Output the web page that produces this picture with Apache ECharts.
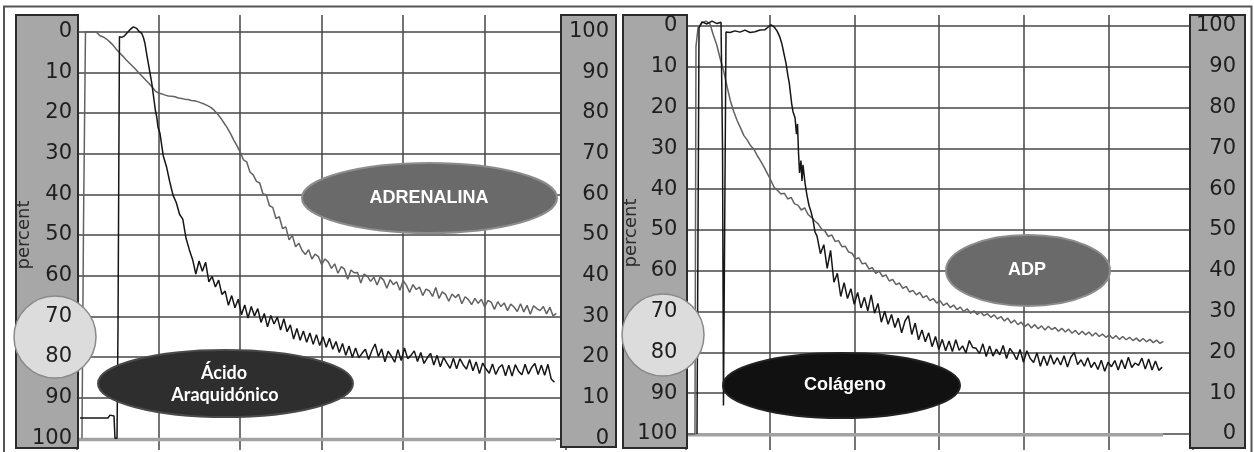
<!DOCTYPE html>
<html><head><meta charset="utf-8">
<script src="https://cdn.jsdelivr.net/npm/echarts@6/dist/echarts.min.js"></script>
<style>html,body{margin:0;padding:0;background:#fff}#c{width:1254px;height:452px}</style>
</head><body><div id="c"></div>
<script>
// ---- Data (y = percent, 0 at top; x = time units, one grid cell = 100) ----
const percentTicks = [0,10,20,30,40,50,60,70,80,90,100];

// Left panel: ADRENALINA (gray) and Ácido Araquidónico (black)
const adrenalinaStart = [[6.1,100],[8.0,47],[10.4,0],[23.3,0]];
const adrenalinaTail = [1.0,1.3,1.8,2.5,3.3,4.3,5.2,6.0,6.9,7.7,8.5,9.3,10.2,11.0,11.9,12.7,13.6,14.6,15.1,15.3,
  15.6,15.8,15.9,16.0,16.3,16.4,16.6,16.7,16.9,17.0,17.2,17.5,17.8,18.2,18.6,19.3,20.2,21.2,22.4,23.6,
  25.0,26.6,28.0,29.6,31.5,32.0,34.5,35.2,36.8,37.2,39.9,40.1,42.8,43.2,46.0,45.5,48.4,48.0,51.2,50.1,
  52.9,52.0,53.8,54.8,53.6,55.9,54.7,55.3,57.3,55.9,
  56.6,58.2,57.1,59.4,57.8,58.4,60.9,58.6,59.3,59.2,
  61.8,59.6,60.1,61.4,60.4,62.3,60.3,61.1,63.1,61.0,
  62.2,61.5,63.6,61.2,62.4,64.1,62.2,63.4,62.8,64.9,
  63.3,63.7,65.1,62.9,65.6,64.0,64.6,66.3,64.5,65.4,
  64.6,66.9,65.2,65.9,67.1,65.6,66.8,65.8,67.7,66.1,
  66.5,68.3,66.4,67.6,66.7,68.6,67.0,67.7,68.8,66.9,
  68.9,67.3,69.5,67.4,68.1,68.6,67.6,69.4,67.8,69.9,
  69.3];
const adrenalinaT0 = 28.2, adrenalinaDt = 4;

const acidoStart = [[3.7,95],[38.0,95],[40.5,94.3],[45.4,94.5],[46.6,100],[49.1,100],[50.3,73],[52.1,1.2],
  [54.8,1.4],[57.7,1.1],[61.3,0.3],[65.0,-0.5],[69.1,-1.2],[73.3,-0.8],[76.1,-0.1],[79.4,0.4],[81.6,1.5],
  [83.4,2.9],[85.5,5.5],[87.5,7.8],[89.6,10.2],[91.7,12.6],[93.3,15],[94.5,16.8],[96.3,19.5],[97.8,20.9],[99.4,23.5]];
const acidoTail = [25.0,30.5,33.2,36.9,40.2,42.0,44.9,46.1,50.8,53.6,56.0,59.6,56.4,58.9,56.7,61.5,60.2,62.8,61.1,64.6,
  63.8,67.3,64.9,67.9,65.8,69.6,67.2,70.4,67.6,69.9,68.1,71.5,69.3,72.6,69.8,71.9,70.2,73.4,70.6,73.8,
  72.1,75.6,73.0,75.9,73.6,76.4,74.1,76.9,74.5,77.2,75.0,77.6,75.4,78.1,76.2,78.9,76.7,79.6,77.3,80.1,
  77.8,80.2,79.1,78.1,80.6,78.4,76.8,79.9,78.0,81.2,
  78.6,79.8,81.3,78.2,80.9,77.8,80.4,79.6,78.5,81.1,
  78.9,81.6,80.2,79.1,82.0,79.6,82.4,80.1,81.5,82.8,
  80.3,82.9,80.4,81.9,83.0,80.6,83.4,81.2,84.1,81.5,
  82.9,84.0,81.7,84.3,82.6,81.9,84.6,82.0,84.7,81.9,
  83.5,84.4,81.8,84.2,82.6,81.6,84.3,82.0,84.5,81.8,
  85.4,86.2];
const acidoT0 = 101.8, acidoDt = 4;
const leftBaseline = [[1.2,100.3],[587.7,100.3]];

// Right panel: ADP (gray) and Colágeno (black)
const adpStart = [[1.9,100],[11.3,100],[12.5,5],[14.9,0.5],[19.6,-0.8],[24.3,-1.2],[29.1,-0.5]];
const adpTail = [2.2,4.6,7.9,10.8,14.6,18.2,20.9,23.1,24.9,26.8,27.9,29.3,30.2,31.8,33.1,34.6,36.2,37.8,39.6,40.3,
  41.2,41.0,42.4,42.0,43.6,43.9,45.1,44.6,46.2,46.9,47.8,48.5,49.8,50.3,51.6,51.2,52.8,52.6,54.1,54.0,
  55.4,55.7,57.1,56.8,58.3,58.1,59.6,59.2,60.6,60.1,61.4,61.0,62.5,62.1,63.4,63.0,64.3,63.8,65.2,64.8,
  65.9,65.3,66.6,66.1,67.3,66.8,67.9,67.3,68.5,67.9,69.0,68.4,69.5,68.9,70.0,69.3,70.4,69.8,70.7,70.1,
  71.0,70.5,71.4,70.8,71.8,71.2,72.3,71.6,72.8,72.1,73.2,72.6,73.7,73.0,74.0,73.2,74.2,73.5,74.5,73.6,
  74.4,73.9,74.8,74.1,75.0,74.3,75.3,74.6,75.6,74.8,75.7,75.0,76.0,75.2,76.1,75.5,76.3,75.7,76.6,75.9,
  76.8,76.1,76.9,76.3,77.1,76.5,77.3,76.6,77.4,76.8,77.6,77.0,77.8,77.3];
const adpT0 = 33.0, adpDt = 4;

const colagenoStart = [[13.7,100],[16.1,0.5],[19.6,-1.0],[25.5,-0.5],[31.4,-1.2],[37.4,-0.6],[42.1,-0.9],
  [43.9,30],[45.0,93],[46.8,93],[48.0,1.5],[52.7,1.6],[58.6,1.2],[64.5,1.5],[70.4,1.0],[76.4,1.6],[82.3,1.4],
  [88.2,1.0],[94.1,0.9],[97.6,0.3],[101.2,-0.3],[104.7,0.2],[108.3,1.2],[111.8,2.8],[114.2,4.5],[116.5,6.8],
  [118.9,9.1],[121.2,12.2],[122.8,14],[124.2,16.5],[125.6,19],[127.2,21],[129.6,22.5],[131.3,26.5],[132.5,24],
  [133.7,31],[134.9,36],[136.6,33],[137.8,38],[139.0,34],[141.4,38.5],[143.7,41.5],[146.1,44],[148.5,45.5],
  [150.8,47.5],[153.2,50.5]];
const colagenoTail = [51.5,55.8,53.6,59.4,55.0,62.8,60.6,66.3,62.9,66.8,64.4,68.2,65.3,69.1,66.5,69.8,65.9,70.4,68.0,72.6,
  69.9,73.1,70.7,73.9,71.6,75.2,72.3,71.0,75.6,72.8,76.9,74.5,77.4,75.2,78.6,76.1,79.3,76.8,79.6,77.2,
  79.8,76.9,79.5,78.4,80.1,77.1,78.8,79.0,80.3,77.9,81.0,78.4,80.9,79.2,80.6,78.3,81.5,79.0,80.2,81.8,
  79.3,82.4,79.6,81.5,82.5,80.1,83.4,80.9,83.2,80.6,82.9,81.3,83.1,80.8,83.6,81.2,80.0,83.0,81.8,83.4,
  81.3,83.7,82.4,84.2,81.9,84.6,82.4,83.5,82.0,84.3,81.8,84.0,81.2,83.7,82.6,83.2,81.4,84.1,81.6,84.3,
  82.1,84.4,83.6];
const colagenoT0 = 155.6, colagenoDt = 4;
const rightBaseline = [[1.9,100.2],[564.5,100.2]];

const labels = {adrenalina:'ADRENALINA', acido:['Ácido','Araquidónico'], adp:'ADP', colageno:'Colágeno', axisName:'percent'};

function build(start, tail, t0, dt){
  return start.concat(tail.map((v,i)=>[+(t0+i*dt).toFixed(2), v]));
}

// ---- Chart ----
const chart = echarts.init(document.getElementById('c'), null, {renderer:'canvas'});
const GRID_COLOR = '#464646';
const FONT = '"DejaVu Sans", Arial, sans-serif';

function plotX(gi, split){
  return {type:'value', gridIndex:gi, min:0, max:600, interval:100,
    axisLine:{show:false}, axisTick:{show:false}, axisLabel:{show:false},
    splitLine:{show:split, lineStyle:{color:GRID_COLOR, width:1.5}}};
}
function plotY(gi){
  return {type:'value', gridIndex:gi, inverse:true, min:0, max:100, interval:10,
    axisLine:{show:false}, axisTick:{show:false}, axisLabel:{show:false},
    splitLine:{show:true, lineStyle:{color:GRID_COLOR, width:1.5}}};
}
function dummyY(gi){ return {type:'value', gridIndex:gi, min:0, max:1, show:false, splitLine:{show:false}}; }
function labelY(gi, pos, inverse, margin){
  return {type:'value', gridIndex:gi, position:pos, inverse:inverse, min:0, max:100, interval:10, z:20,
    axisLine:{show:false}, axisTick:{show:false}, splitLine:{show:false},
    axisLabel:{show:true, margin:margin, align:'right', fontSize:21, fontFamily:FONT, color:'#1e1e1e',
      showMinLabel:true, showMaxLabel:true}};
}
function line(name, data, xi, yi, color, width){
  return {name:name, type:'line', xAxisIndex:xi, yAxisIndex:yi, data:data, showSymbol:false, clip:false,
    animation:false, lineStyle:{color:color, width:width}, itemStyle:{color:color}, z:3};
}

const BAR_FILL = '#a7a7a7', BAR_STROKE = '#2b2b2b';
function bar(x,y,w,h){ return {type:'rect', z:10, shape:{x:x,y:y,width:w,height:h}, style:{fill:BAR_FILL, stroke:BAR_STROKE, lineWidth:2}}; }
function circ(cx,cy,r){ return {type:'circle', z:12, shape:{cx:cx,cy:cy,r:r}, style:{fill:'#dcdcdc', stroke:'#8a8a8a', lineWidth:1.5}}; }
function ell(cx,cy,rx,ry,fill,stroke){ return {type:'ellipse', z:14, shape:{cx:cx,cy:cy,rx:rx,ry:ry}, style:{fill:fill, stroke:stroke, lineWidth:2}}; }
function txt(text,x,y,font,rot){
  return {type:'text', z:16, x:x, y:y, rotation:rot||0,
    style:{text:text, x:0, y:0, fill: rot ? '#2a2a2a' : '#ffffff', font:font,
      align:'center', verticalAlign:'middle', textAlign:'center', textVerticalAlign:'middle'}};
}
const LABEL_FONT = 'bold 18px "Liberation Sans", Arial, sans-serif';
const ACIDO_FONT = 'bold 18px Lato, "Liberation Sans", sans-serif';

const option = {
  animation:false,
  backgroundColor:'#ffffff',
  grid:[
    {left:77, top:31.7, width:489, height:406.6},
    {left:77, top:15, width:489, height:435},
    {left:685.4, top:26, width:507.6, height:408},
    {left:685.4, top:15, width:507.6, height:435}
  ],
  xAxis:[ plotX(0,false), plotX(1,true), plotX(2,false), plotX(3,true) ],
  yAxis:[ plotY(0), dummyY(1), plotY(2), dummyY(3),
    labelY(0,'left',true,5), labelY(0,'right',false,43),
    labelY(2,'left',true,8), labelY(2,'right',false,43) ],
  series:[
    line('baseline L', leftBaseline, 0, 0, '#a2a2a2', 3.5),
    line('ADRENALINA', build(adrenalinaStart, adrenalinaTail, adrenalinaT0, adrenalinaDt), 0, 0, '#626262', 1.5),
    line('Ácido Araquidónico', build(acidoStart, acidoTail, acidoT0, acidoDt), 0, 0, '#161616', 1.5),
    line('baseline R', rightBaseline, 2, 2, '#a2a2a2', 3.5),
    line('ADP', build(adpStart, adpTail, adpT0, adpDt), 2, 2, '#626262', 1.5),
    line('Colágeno', build(colagenoStart, colagenoTail, colagenoT0, colagenoDt), 2, 2, '#161616', 1.5)
  ],
  graphic:{elements:[
    {type:'rect', z:10, shape:{x:4, y:6.5, width:1247.5, height:470}, style:{fill:'none', stroke:'#555', lineWidth:2}},
    bar(16,15,62,433), bar(561,15,55,432), bar(623,15,64,433), bar(1190,15,55,433),
    circ(55,337,41), circ(663,335,41),
    txt(labels.axisName, 24, 235, '18px ' + FONT, Math.PI/2),
    txt(labels.axisName, 631, 233, '18px ' + FONT, Math.PI/2),
    ell(429.5,198,127.5,35,'#6a6a6a','#8c8c8c'),
    txt(labels.adrenalina, 429, 198, LABEL_FONT),
    ell(225.5,383.5,127.5,33.5,'#2e2e2e','#4a4a4a'),
    txt(labels.acido[0], 224, 373, ACIDO_FONT),
    txt(labels.acido[1], 225, 395, ACIDO_FONT),
    ell(1028,270.5,82,35.5,'#6a6a6a','#8c8c8c'),
    txt(labels.adp, 1027, 270, LABEL_FONT),
    ell(841.5,385.5,118.5,32.5,'#111111','#222222'),
    txt(labels.colageno, 845, 385, LABEL_FONT)
  ]}
};
chart.setOption(option);
</script></body></html>
